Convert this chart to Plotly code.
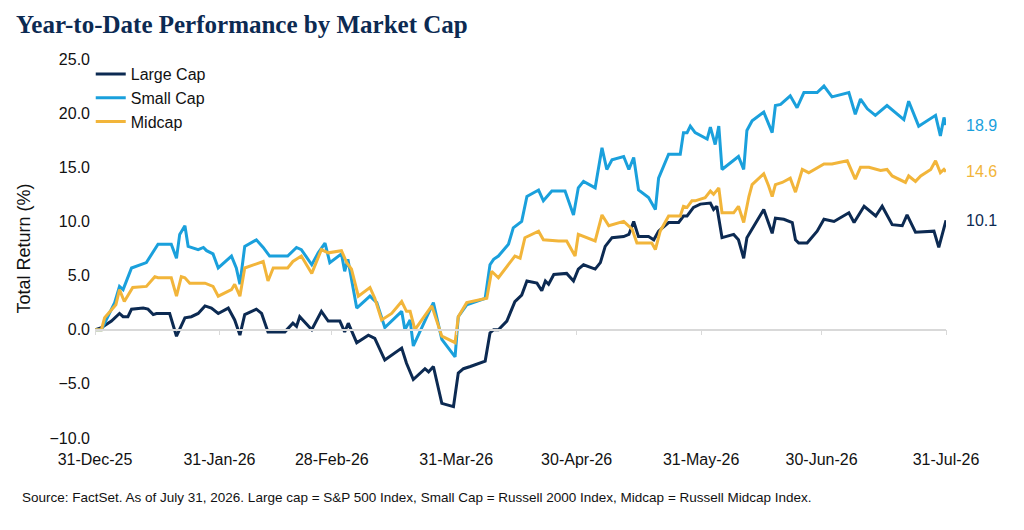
"""YTD total return by market cap: large, small and midcap indices."""

import pandas as pd
import plotly.graph_objects as go

START = pd.Timestamp("2025-12-31")

# day offsets from 31-Dec-25 and total return (%)
large_days = [0, 1.6, 4.1, 6.1, 7, 8.2, 9.1, 12, 13.2, 14.5, 15.3, 18.6, 20.3, 22.4, 24, 25.7,
              27.4, 29, 30.7, 33.2, 34.8, 36.1, 37.3, 40.2, 41.5, 43.1, 47.3, 49.3, 50.2, 51,
              54, 56.4, 58.1, 61, 62.2, 63.1, 65.2, 68.1, 69.7, 72.2, 76.4, 77.6, 79.3, 82.2,
              83.1, 84.3, 86.4, 89.3, 90.5, 91.8, 93.5, 97.2, 98.4, 99.3, 100.5, 102.6, 104.6,
              106.3, 107.6, 110.1, 111.3, 112.2, 113, 114.3, 117.5, 119.2, 120.4, 121.7, 124.6,
              125.9, 127.1, 128.8, 131.7, 133, 134.2, 135.4, 137.9, 139.2, 140.4, 142.9, 145.4,
              146.6, 147.5, 149.1, 150.8, 153.3, 154.1, 154.9, 156.2, 159.1, 160.3, 161.6,
              162.4, 166.6, 168.7, 169.5, 171.6, 173.7, 174.5, 175.3, 177.4, 179.9, 181.6,
              184.1, 187.8, 189.1, 191.6, 194.5, 196.1, 198.6, 201.1, 202.3, 204.4, 209, 210.2,
              211.5, 212]
large_vals = [0, 0.2, 0.8, 1.5, 1.2, 1.2, 1.9, 2.0, 1.9, 1.4, 1.5, 1.5, -0.6, 1.1, 1.2, 1.5,
              2.2, 2.0, 1.5, 2.0, 0.9, -0.5, 1.4, 1.9, 1.5, -0.2, -0.2, 0.6, 0.3, 1.2,
              0, 1.7, 0.8, 0.8, -0.2, 0.6, -1.2, -0.5, -0.8, -2.8, -1.7, -3.1, -4.6, -3.6,
              -3.9, -3.4, -6.8, -7.1, -4.0, -3.6, -3.4, -2.9, -0.3, 0, 0, 0.8, 2.6,
              3.2, 4.5, 4.3, 3.6, 4.5, 4.2, 5.1, 5.2, 4.5, 5.6, 6.0, 5.6,
              6.2, 7.7, 8.5, 8.6, 8.8, 10.0, 8.6, 8.6, 8.3, 9.1, 9.9, 9.9,
              10.5, 10.5, 11.3, 11.6, 11.7, 11.1, 11.4, 8.5, 8.8, 8.3, 6.6,
              8.5, 11.1, 8.9, 10.3, 10.2, 9.9, 8.3, 8.0, 8.0, 9.1, 10.2,
              10.0, 10.8, 9.9, 11.4, 10.5, 11.4, 9.7, 9.6, 10.6, 9.0, 9.1, 7.6,
              9.3, 10.1]

small_days = [0, 1.6, 4.9, 6.1, 7, 9.1, 12.8, 15.7, 19, 20.3, 21.1, 22.4, 23.2, 25.7, 27,
              27.8, 29.4, 30.7, 34, 35.2, 36.1, 37.3, 40.2, 41.9, 43.5, 48, 50.2, 51.4, 54,
              55.6, 57.3, 58.5, 61.4, 62.2, 63, 65.2, 68.5, 70.2, 72.2, 76.4, 77.2, 78.5,
              79.3, 84.3, 86.4, 89.7, 90.5, 92.6, 97.2, 98.4, 99.3, 100.5, 103, 104.2, 106.3,
              107.6, 110.5, 111.7, 113.8, 117.1, 119.2, 120.4, 121.7, 124.6, 126.3, 127.5,
              128.8, 131.7, 133, 134.2, 135.4, 137.9, 139.6, 140.4, 142.9, 145.8, 146.6,
              147.5, 148.3, 149.5, 152.5, 153.3, 154.5, 155.4, 156.2, 160.3, 161.6, 162.4,
              163.7, 166.6, 168.7, 169.5, 170.8, 173.2, 174.9, 176.6, 179.9, 181.6, 183.6,
              187.8, 189.4, 190.7, 192.4, 194.4, 197.3, 201.5, 202.7, 205.2, 209.4, 210.6,
              211.5, 212]
small_vals = [0, 0, 2.5, 4.0, 3.7, 5.7, 6.2, 7.9, 7.9, 6.6, 8.8, 9.6, 7.7, 7.4, 7.6,
              7.3, 7.0, 5.7, 6.8, 5.7, 4.2, 7.7, 8.3, 7.6, 6.8, 6.8, 7.6, 7.4, 6.0,
              7.1, 8.0, 6.2, 7.0, 5.4, 6.5, 2.0, 3.1, 2.5, 0.2, 1.7, 0, 0.9,
              -1.5, 2.5, -0.9, -2.5, 1.2, 2.3, 2.9, 6.0, 6.5, 6.8, 7.9, 9.4, 10.0,
              12.3, 12.9, 11.9, 12.8, 12.8, 10.6, 13.1, 13.7, 13.1, 16.8, 14.8,
              15.7, 16.0, 14.8, 15.9, 12.9, 12.2, 11.1, 14.0, 16.2, 16.2, 18.2,
              18.2, 18.8, 18.2, 17.6, 18.7, 17.1, 18.8, 14.8, 16.0, 14.8, 18.4,
              19.3, 20.1, 18.2, 20.7, 20.8, 21.6, 20.5, 21.9, 21.9, 22.5, 21.5,
              21.9, 19.9, 21.3, 20.4, 19.8, 20.7, 19.4, 21.1, 18.8, 19.8, 17.9,
              19.6, 18.9]

mid_days = [0, 1.6, 2.4, 5.2, 6.1, 7.3, 9.4, 12.8, 14.9, 15.7, 19, 20.3, 21.5, 22.4, 23.6,
            27.4, 29.4, 30.7, 34, 34.8, 36.1, 37.3, 41.9, 43.1, 44.4, 48, 49.3, 51.4, 54,
            56.4, 58.1, 61.4, 62.7, 63.9, 65.6, 68.5, 69.7, 71.4, 73.9, 76.4, 77.6, 78.5,
            79.7, 83.9, 86.4, 89.7, 90.5, 92.6, 97.6, 98.8, 100.5, 104.6, 105.9, 107.1,
            110.5, 111.7, 115.5, 117.5, 119.6, 120.4, 124.6, 126.3, 128, 131.7, 133.8, 135,
            138.7, 139.6, 140.8, 142.9, 145.8, 146.6, 147.5, 148.7, 149.5, 152, 153.3,
            154.1, 155.4, 156.2, 159.1, 160.3, 161.6, 162.9, 163.7, 166.6, 167.8, 168.7,
            169.5, 171.2, 173.2, 174.5, 176.2, 177.8, 181.6, 183.6, 187.4, 189.4, 190.7,
            192.8, 195.7, 197.3, 198.6, 201.9, 202.7, 204.4, 205.7, 208.2, 209.4, 210.6,
            211.5, 212]
mid_vals = [0, 0, 1.1, 2.3, 3.7, 2.6, 3.9, 4.0, 4.9, 4.8, 4.8, 3.1, 4.9, 4.8, 4.3,
            4.3, 4.0, 3.1, 3.7, 4.2, 3.1, 5.7, 6.3, 4.5, 5.7, 5.7, 6.3, 6.8, 5.2,
            7.4, 7.1, 7.3, 6.2, 5.6, 3.1, 3.9, 2.9, 0.9, 1.5, 2.6, 1.7, 1.7,
            0, 2.2, -0.6, -1.2, 1.2, 2.5, 2.9, 5.4, 4.8, 6.8, 6.6, 8.5,
            9.1, 8.3, 8.2, 8.2, 6.8, 8.8, 8.2, 10.6, 9.6, 10.0, 9.3, 8.0,
            8.0, 7.4, 9.1, 10.5, 10.5, 11.4, 11.3, 11.9, 11.9, 12.2, 12.8,
            12.5, 13.1, 10.8, 10.8, 11.4, 9.9, 12.3, 13.4, 14.4, 13.3, 12.3,
            13.4, 13.6, 14.0, 12.7, 14.8, 14.5, 15.3, 15.3, 15.6, 13.9, 15.0,
            15.0, 14.7, 14.8, 14.2, 13.6, 14.2, 13.7, 14.2, 14.8, 15.6, 14.5,
            14.8, 14.6]

tick_dates = ["2025-12-31", "2026-01-31", "2026-02-28", "2026-03-31",
              "2026-04-30", "2026-05-31", "2026-06-30", "2026-07-31"]
tick_text = ["31-Dec-25", "31-Jan-26", "28-Feb-26", "31-Mar-26",
             "30-Apr-26", "31-May-26", "30-Jun-26", "31-Jul-26"]

series = [
    ("Large Cap", large_days, large_vals, "#0c2a52"),
    ("Small Cap", small_days, small_vals, "#1aa0dc"),
    ("Midcap", mid_days, mid_vals, "#f2b53a"),
]


def to_dates(days):
    return START + pd.to_timedelta(days, unit="D")


fig = go.Figure()
for name, days, vals, color in series:
    dates = to_dates(days)
    fig.add_trace(go.Scatter(
        x=dates, y=vals, mode="lines", name=name,
        line=dict(color=color, width=3),
    ))
    fig.add_annotation(
        x=dates[-1], y=vals[-1], text=f"{vals[-1]:.1f}", showarrow=False,
        xanchor="left", xshift=18, font=dict(color=color, size=16),
    )

# invisible trace to carry the axis line drawn at y = 0
fig.add_trace(go.Scatter(x=[tick_dates[0]], y=[0], xaxis="x2", mode="markers",
                         marker=dict(opacity=0), showlegend=False, hoverinfo="skip"))

fig.update_layout(
    width=1024, height=530,
    margin=dict(l=87, r=86, t=51, b=100),
    plot_bgcolor="white", paper_bgcolor="white",
    font=dict(family="Liberation Sans, Arial", size=16, color="#111111"),
    showlegend=True,
    legend=dict(x=-0.005, y=1.005, xanchor="left", yanchor="top", bgcolor="rgba(0,0,0,0)",
                font=dict(size=16), tracegroupgap=0, itemwidth=30),
    xaxis=dict(
        range=[tick_dates[0], tick_dates[-1]], tickvals=tick_dates, ticktext=tick_text,
        showgrid=False, showline=False, zeroline=False, ticks="", automargin=False,
        ticklabelstandoff=10,
    ),
    xaxis2=dict(
        matches="x", overlaying="x", anchor="free", position=10 / 35,
        showticklabels=False, showgrid=False, showline=True, linecolor="#d9d9d9",
        linewidth=1.5, ticks="outside", ticklen=5, tickcolor="#d9d9d9",
        tickvals=tick_dates, automargin=False,
    ),
    yaxis=dict(
        range=[-10, 25], dtick=5, tickformat=".1f", showgrid=False, zeroline=False,
        showline=False, automargin=False, ticklabelstandoff=4,
        title=dict(text="Total Return (%)", font=dict(size=18), standoff=14),
    ),
)

fig.add_annotation(
    xref="paper", yref="paper", x=-0.095, y=1.0, yshift=50, xanchor="left", yanchor="top",
    text="<b>Year-to-Date Performance by Market Cap</b>", showarrow=False,
    font=dict(family="Liberation Serif, Times New Roman", size=25, color="#0c2a52"),
)
fig.add_annotation(
    xref="paper", yref="paper", x=-0.088, y=0, yshift=-50, xanchor="left", yanchor="top",
    text="Source: FactSet. As of July 31, 2026. Large cap = S&P 500 Index, Small Cap = "
         "Russell 2000 Index, Midcap = Russell Midcap Index.",
    showarrow=False, font=dict(size=13.5),
)

fig.write_html("out.html")
